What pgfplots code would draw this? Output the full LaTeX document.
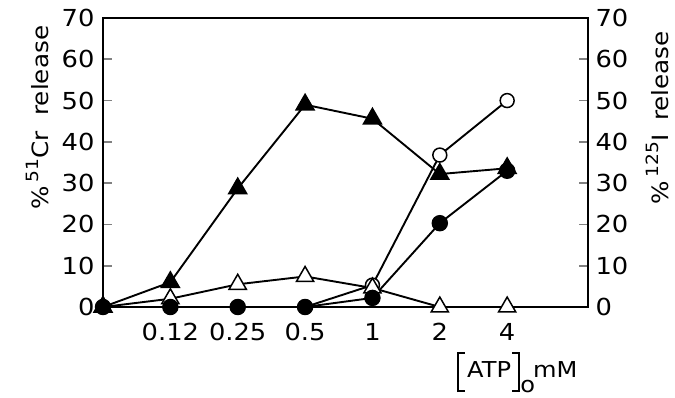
\documentclass[border=0pt]{standalone}
\usepackage{pgfplots}
\pgfplotsset{compat=1.18}
\usepackage{fontspec}
\setmainfont{DejaVu Sans}[FakeStretch=1.1]
\newcommand{\lbrk}{\rule[-15bp]{2.2bp}{40bp}\rule[-15bp]{6bp}{2.2bp}\hspace{-6bp}\rule[22.8bp]{6bp}{2.2bp}}
\newcommand{\rbrk}{\rule[-15bp]{6bp}{2.2bp}\hspace{-6bp}\rule[22.8bp]{6bp}{2.2bp}\rule[-15bp]{2.2bp}{40bp}}
\begin{document}
\begin{tikzpicture}
\begin{axis}[name=main,
  scale only axis, width=485bp, height=289bp,
  xmin=0, xmax=7.2, ymin=0, ymax=70,
  clip=false,
  axis line style={line width=2.2bp},
  xtick={1,2,3,4,5,6},
  xticklabels={0.12,0.25,0.5,1,2,4},
  major x tick style={draw=none},
  ytick={0,10,20,30,40,50,60,70},
  ytick pos=both,
  tick align=inside,
  major tick length=9bp,
  major y tick style={line width=1.8bp},
  /pgf/number format/assume math mode=true,
  ticklabel style={font=\fontsize{23.5}{26}\selectfont},
  xticklabel style={yshift=-13bp},
  yticklabel style={xshift=-5bp},
  ylabel={\%\,\raisebox{0.45em}{\fontsize{17}{19}\selectfont 51}Cr\hspace{0.7em}release},
  ylabel style={font=\fontsize{22.5}{26}\selectfont, at={(axis description cs:-0.113,0.655)}, anchor=base},
  xlabel={\lbrk\hspace{2bp}ATP\hspace{1bp}\rbrk\raisebox{-15bp}{o}\hspace{-2bp}mM},
  xlabel style={font=\fontsize{22}{26}\selectfont, at={(axis description cs:0.854,0)}, anchor=base, yshift=-70bp},
]
% open circles
\addplot[line width=1.9bp, mark=*, mark size=7, mark options={fill=white, line width=1.5bp}]
  coordinates {(0,0) (1,0) (2,0) (3,0) (4,5.3) (5,36.8) (6,50)};
% open triangles
\addplot[line width=1.9bp, mark=triangle*, mark size=10, mark options={fill=white, line width=1.5bp}]
  coordinates {(0,0) (1,2) (2,5.5) (3,7.4) (4,4.6) (5,0) (6,0)};
% filled triangles
\addplot[line width=1.9bp, mark=triangle*, mark size=10, mark options={fill=black}]
  coordinates {(0,0) (1,6) (2,28.7) (3,49) (4,45.6) (5,32.2) (6,33.6)};
% filled circles
\addplot[line width=1.9bp, mark=*, mark size=7.3, mark options={fill=black}]
  coordinates {(0,0) (1,0) (2,0) (3,0) (4,2.2) (5,20.3) (6,33)};
\end{axis}
\begin{axis}[
  scale only axis, width=485bp, height=289bp,
  xmin=0, xmax=7.2, ymin=0, ymax=70,
  axis line style={draw=none},
  xtick=\empty,
  ytick={0,10,20,30,40,50,60,70},
  yticklabel pos=right,
  major tick length=0pt,
  /pgf/number format/assume math mode=true,
  ticklabel style={font=\fontsize{23.5}{26}\selectfont},
  yticklabel style={xshift=4bp},
  ylabel={\%\,\raisebox{0.45em}{\fontsize{17}{19}\selectfont 125}I\hspace{0.6em}release},
  ylabel style={font=\fontsize{22.5}{26}\selectfont, at={(axis description cs:1.166,0.655)}, anchor=base, rotate=0},
]
\addplot[draw=none] coordinates {(0,0)};
\end{axis}
\pgfresetboundingbox
\path[use as bounding box] ([shift={(-103bp,-91bp)}]main.south west) rectangle ([shift={(572bp,307bp)}]main.south west);
\end{tikzpicture}
\end{document}
